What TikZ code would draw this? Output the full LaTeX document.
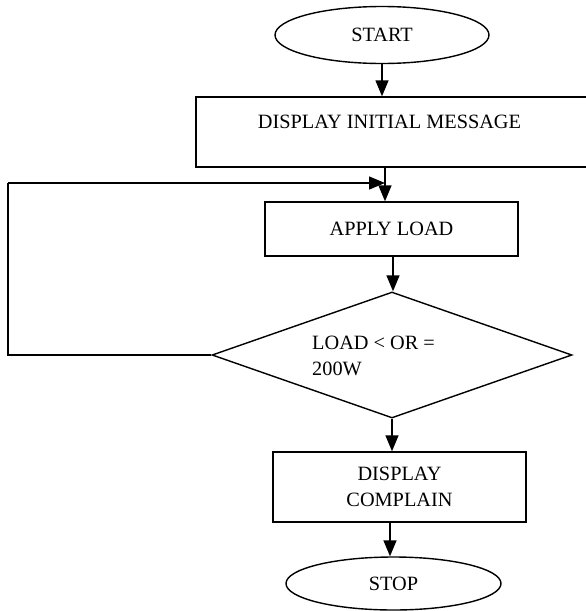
\documentclass[tikz,border=0pt]{standalone}
\usepackage{fontspec}
\setmainfont{Liberation Serif}
\usetikzlibrary{shapes.geometric,arrows.meta}
\begin{document}
\begin{tikzpicture}[x=1pt,y=-1pt,
  every node/.style={font=\fontsize{20.3}{25.5}\selectfont, inner sep=0pt},
  line/.style={line width=1.4pt},
  arr/.style={line width=1.4pt,-{Triangle[length=16pt,width=13pt]}},
  term/.style={ellipse, draw, line width=1.4pt},
  box/.style={rectangle, draw, line width=1.4pt, align=center}]
\useasboundingbox (0,0) rectangle (586,611);
\node[term, minimum width=214pt, minimum height=57pt] (start) at (382,35) {START};
\node[box, minimum width=404pt, minimum height=70pt] (disp) at (398,132) {};
\node (disptext) at (389.5,122) {DISPLAY INITIAL MESSAGE};
\node[box, minimum width=253pt, minimum height=54pt] (apply) at (391.5,229) {APPLY LOAD};
\node[diamond, draw, line width=1.4pt, minimum width=360pt, minimum height=126pt] (dec) at (392,355) {};
\node[align=left, anchor=west] (dectext) at (312,356) {LOAD < OR =\\200W};
\node[box, minimum width=253pt, minimum height=70pt] (comp) at (399.5,487) {DISPLAY\\COMPLAIN};
\node[term, minimum width=215pt, minimum height=53pt] (stop) at (393.5,583.5) {STOP};
\coordinate (c1) at (385,167);
\coordinate (c2) at (393,256);
\coordinate (c4) at (390,522);
\coordinate (lb) at (8,355);
\coordinate (lt) at (8,183);
\coordinate (le) at (385,183);
\draw[arr] (start.south) -- (start.south |- disp.north);
\draw[arr] (c1) -- (c1 |- apply.north);
\draw[arr] (c2) -- (c2 |- dec.north);
\draw[arr] (dec.south) -- (dec.south |- comp.north);
\draw[arr] (c4) -- (c4 |- stop.north);
\draw[line] (dec.west) -- (lb) -- (lt);
\draw[arr] (lt) -- (le);
\end{tikzpicture}
\end{document}
